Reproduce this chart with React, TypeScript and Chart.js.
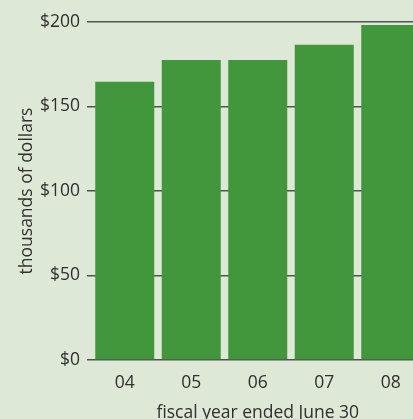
import React, { useEffect, useRef } from "react";
import { Chart, registerables } from "chart.js";

Chart.register(...registerables);

const categories = ["04", "05", "06", "07", "08"];
const values = [164.7, 177.5, 177.5, 186.6, 198.2];
const yTicks = [0, 50, 100, 150, 200];
const yTitle = "thousands of dollars";
const xTitle = "fiscal year ended June 30";

const BG = "#dde8d7";
const BAR = "#42963b";
const GRID = "#4f544f";
const TEXT = "#2f2f2f";
const FONT = "'Open Sans', 'Noto Sans', sans-serif";
const FS = 17.5;

export default function App() {
  const ref = useRef<HTMLCanvasElement | null>(null);

  useEffect(() => {
    const canvas = ref.current;
    if (!canvas) return;
    const chart = new Chart(canvas, {
      type: "bar",
      data: {
        labels: categories,
        datasets: [
          {
            data: values,
            backgroundColor: BAR,
            borderWidth: 0,
            barPercentage: 0.887,
            categoryPercentage: 1,
          },
        ],
      },
      options: {
        responsive: false,
        animation: false,
        devicePixelRatio: 1,
        layout: { padding: { top: 22, right: 0, bottom: 0, left: 0 } },
        plugins: {
          legend: { display: false },
          tooltip: { enabled: false },
        },
        scales: {
          x: {
            grid: { display: false },
            border: { display: false },
            ticks: {
              color: TEXT,
              font: { family: FONT, size: FS },
              padding: 4.5,
              maxRotation: 0,
            },
            title: {
              display: true,
              text: xTitle,
              color: TEXT,
              font: { family: FONT, size: FS },
              padding: { top: 0, bottom: 6 },
            },
            afterFit: (scale: any) => {
              scale.height = 70;
            },
          },
          y: {
            min: 0,
            max: 200,
            afterBuildTicks: (scale: any) => {
              scale.ticks = yTicks.map((v) => ({ value: v }));
            },
            grid: {
              color: GRID,
              lineWidth: 1.5,
              tickLength: 4.5,
              tickColor: GRID,
            },
            border: { display: false },
            ticks: {
              color: TEXT,
              font: { family: FONT, size: FS },
              padding: 7,
              callback: (v: any) => "$" + v,
            },
            title: {
              display: true,
              text: yTitle,
              color: TEXT,
              font: { family: FONT, size: FS },
              padding: { top: 16.8, bottom: 0 },
            },
            afterFit: (scale: any) => {
              scale.width = 91.5;
            },
          },
        },
      },
    });
    return () => chart.destroy();
  }, []);

  return (
    <div
      style={{
        position: "fixed",
        left: 0,
        top: 0,
        width: 413,
        height: 419,
        overflow: "hidden",
        background: BG,
      }}
    >
      <canvas
        ref={ref}
        width={424}
        height={430}
        style={{ position: "absolute", left: 0, top: 0, width: 424, height: 430 }}
      />
    </div>
  );
}
